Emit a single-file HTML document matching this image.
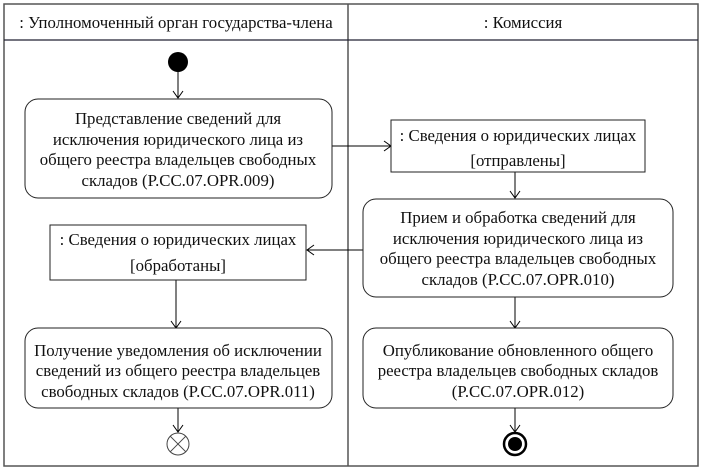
<!DOCTYPE html>
<html><head><meta charset="utf-8"><style>html,body{margin:0;padding:0;background:#fff}svg{display:block}text{font-family:"Liberation Serif","DejaVu Serif",serif;font-size:16.8px;fill:#111}</style></head><body>
<svg width="702" height="472" viewBox="0 0 702 472" xmlns="http://www.w3.org/2000/svg">
<rect x="4" y="4" width="694" height="462" fill="none" stroke="#555" stroke-width="1.5"/>
<line x1="348" y1="4" x2="348" y2="466" stroke="#555" stroke-width="1.5"/>
<line x1="4" y1="40" x2="698" y2="40" stroke="#223" stroke-width="1.2"/>
<text x="176" y="28" text-anchor="middle">: Уполномоченный орган государства-члена</text>
<text x="523" y="28" text-anchor="middle">: Комиссия</text>
<g stroke="#000" stroke-width="1" fill="none">
<line x1="178" y1="70" x2="178" y2="98"/><polyline points="173,91 178,98 183,91"/>
<line x1="332" y1="146" x2="391" y2="146"/><polyline points="384,141 391,146 384,151"/>
<line x1="515" y1="172" x2="515" y2="198"/><polyline points="510,191 515,198 520,191"/>
<line x1="363" y1="250" x2="307" y2="250"/><polyline points="314,245 307,250 314,255"/>
<line x1="176" y1="280" x2="176" y2="328"/><polyline points="171,321 176,328 181,321"/>
<line x1="515" y1="297" x2="515" y2="328"/><polyline points="510,321 515,328 520,321"/>
<line x1="178" y1="408" x2="178" y2="432"/><polyline points="173,425 178,432 183,425"/>
<line x1="515" y1="408" x2="515" y2="432"/><polyline points="510,425 515,432 520,425"/>
</g>
<circle cx="178" cy="62" r="10" fill="#000"/>
<g fill="#fff" stroke="#222" stroke-width="1">
<rect x="25" y="99" width="307" height="99" rx="13"/>
<rect x="391" y="120" width="254" height="52"/>
<rect x="363" y="199" width="310" height="98" rx="13"/>
<rect x="50" y="225" width="256" height="55"/>
<rect x="25" y="328" width="307" height="80" rx="13"/>
<rect x="363" y="328" width="310" height="80" rx="13"/>
</g>
<text text-anchor="middle"><tspan x="178" y="124">Представление сведений для</tspan><tspan x="178" y="145">исключения юридического лица из</tspan><tspan x="178" y="165">общего реестра владельцев свободных</tspan><tspan x="178" y="186">складов (P.CC.07.OPR.009)</tspan></text>
<text text-anchor="middle"><tspan x="518" y="141">: Сведения о юридических лицах</tspan><tspan x="518" y="166">[отправлены]</tspan></text>
<text text-anchor="middle"><tspan x="518" y="223">Прием и обработка сведений для</tspan><tspan x="518" y="244">исключения юридического лица из</tspan><tspan x="518" y="264">общего реестра владельцев свободных</tspan><tspan x="518" y="285">складов (P.CC.07.OPR.010)</tspan></text>
<text text-anchor="middle"><tspan x="178" y="245">: Сведения о юридических лицах</tspan><tspan x="178" y="271">[обработаны]</tspan></text>
<text text-anchor="middle"><tspan x="178" y="356">Получение уведомления об исключении</tspan><tspan x="178" y="376">сведений из общего реестра владельцев</tspan><tspan x="178" y="397">свободных складов (P.CC.07.OPR.011)</tspan></text>
<text text-anchor="middle"><tspan x="518" y="356">Опубликование обновленного общего</tspan><tspan x="518" y="376">реестра владельцев свободных складов</tspan><tspan x="518" y="397">(P.CC.07.OPR.012)</tspan></text>
<circle cx="178" cy="444" r="11" fill="#fff" stroke="#444" stroke-width="1"/>
<line x1="170.2" y1="436.2" x2="185.8" y2="451.8" stroke="#444"/>
<line x1="185.8" y1="436.2" x2="170.2" y2="451.8" stroke="#444"/>
<circle cx="515" cy="444" r="11" fill="#fff" stroke="#000" stroke-width="2.5"/>
<circle cx="515" cy="444" r="7" fill="#000"/>
</svg>
</body></html>
